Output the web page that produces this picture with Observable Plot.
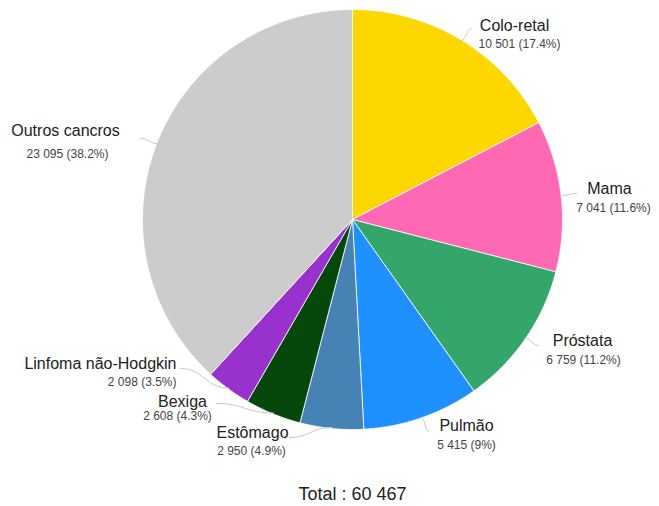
<!DOCTYPE html>
<html>
<head>
<meta charset="utf-8">
<script src="https://cdn.jsdelivr.net/npm/d3@7"></script>
<script src="https://cdn.jsdelivr.net/npm/@observablehq/plot@0.6"></script>
<style>
  html, body { margin: 0; padding: 0; background: #fff; }
  #chart svg { display: block; font-family: "Liberation Sans", Arial, sans-serif; }
</style>
</head>
<body>
<div id="chart"></div>
<script>
// ---- data ----
const categories = ["Colo-retal", "Mama", "Próstata", "Pulmão", "Estômago", "Bexiga", "Linfoma não-Hodgkin", "Outros cancros"];
const values = [10501, 7041, 6759, 5415, 2950, 2608, 2098, 23095];
const valueLabels = ["10 501 (17.4%)", "7 041 (11.6%)", "6 759 (11.2%)", "5 415 (9%)", "2 950 (4.9%)", "2 608 (4.3%)", "2 098 (3.5%)", "23 095 (38.2%)"];
const colors = ["#FFD700", "#FF69B4", "#34A66B", "#1E90FF", "#4682B4", "#06470B", "#9932CC", "#CCCCCC"];
const totalLabel = "Total : 60 467";

// ---- layout (pixel space) ----
const W = 659, H = 506;
const CX = 352, CY = 219, R = 210;
// label placement: [nameX, nameY, valueX, valueY, anchor, leaderEndX, leaderEndY]
const labelLayout = [
  [514, 25, 519, 44, "middle", 471, 28],
  [609, 188, 613, 208, "middle", 576, 193],
  [582, 340, 583, 360, "middle", 538, 345],
  [466, 425, 466, 445, "middle", 428, 431],
  [252, 432, 251, 451, "middle", 289, 437],
  [182, 401, 177, 416, "middle", 216, 403],
  [176, 363, 176, 382, "end", 180, 368],
  [65, 130, 67, 154, "middle", 140, 138]
];

// ---- geometry from data ----
const total = d3.sum(values);
let acc = 0;
const slices = categories.map((name, i) => {
  const a0 = acc / total * 2 * Math.PI;
  acc += values[i];
  const a1 = acc / total * 2 * Math.PI;
  return {name, value: values[i], label: valueLabels[i], color: colors[i], a0, a1, am: (a0 + a1) / 2, layout: labelLayout[i]};
});
const px = (a, r) => CX + r * Math.sin(a);
const py = (a, r) => CY - r * Math.cos(a);

const slicePts = [];
for (const s of slices) {
  slicePts.push({name: s.name, color: s.color, x: CX, y: CY});
  const n = Math.max(2, Math.ceil((s.a1 - s.a0) / 0.01));
  for (let k = 0; k <= n; k++) {
    const a = s.a0 + (s.a1 - s.a0) * k / n;
    slicePts.push({name: s.name, color: s.color, x: px(a, R), y: py(a, R)});
  }
  slicePts.push({name: s.name, color: s.color, x: CX, y: CY});
}

const leaderPts = [];
for (const s of slices) {
  leaderPts.push({name: s.name, x: px(s.am, R - 1), y: py(s.am, R - 1)});
  leaderPts.push({name: s.name, x: s.layout[5], y: s.layout[6]});
}

const mid = slices.filter(d => d.layout[4] === "middle");
const end = slices.filter(d => d.layout[4] === "end");

const chart = Plot.plot({
  width: W,
  height: H,
  margin: 0,
  x: {domain: [0, W], range: [0, W], axis: null},
  y: {domain: [0, H], range: [0, H], axis: null},
  color: {type: "identity"},
  style: {background: "#fff", fontFamily: "'Liberation Sans', Arial, sans-serif"},
  marks: [
    Plot.line(slicePts, {x: "x", y: "y", z: "name", fill: "color", stroke: "#fff", strokeWidth: 0.8, strokeLinejoin: "round", curve: "linear"}),
    Plot.line(leaderPts, {x: "x", y: "y", z: "name", stroke: "#c8c8c8", strokeWidth: 1, curve: "bump-x"}),
    Plot.text(mid, {x: d => d.layout[0], y: d => d.layout[1], text: "name", textAnchor: "middle", fontSize: 16, fill: "#222"}),
    Plot.text(end, {x: d => d.layout[0], y: d => d.layout[1], text: "name", textAnchor: "end", fontSize: 16, fill: "#222"}),
    Plot.text(mid, {x: d => d.layout[2], y: d => d.layout[3], text: "label", textAnchor: "middle", fontSize: 12, fill: "#444"}),
    Plot.text(end, {x: d => d.layout[2], y: d => d.layout[3], text: "label", textAnchor: "end", fontSize: 12, fill: "#444"}),
    Plot.text([totalLabel], {x: CX, y: 494, text: d => d, fontSize: 18, fill: "#222"})
  ]
});
document.getElementById("chart").append(chart);
</script>
</body>
</html>
